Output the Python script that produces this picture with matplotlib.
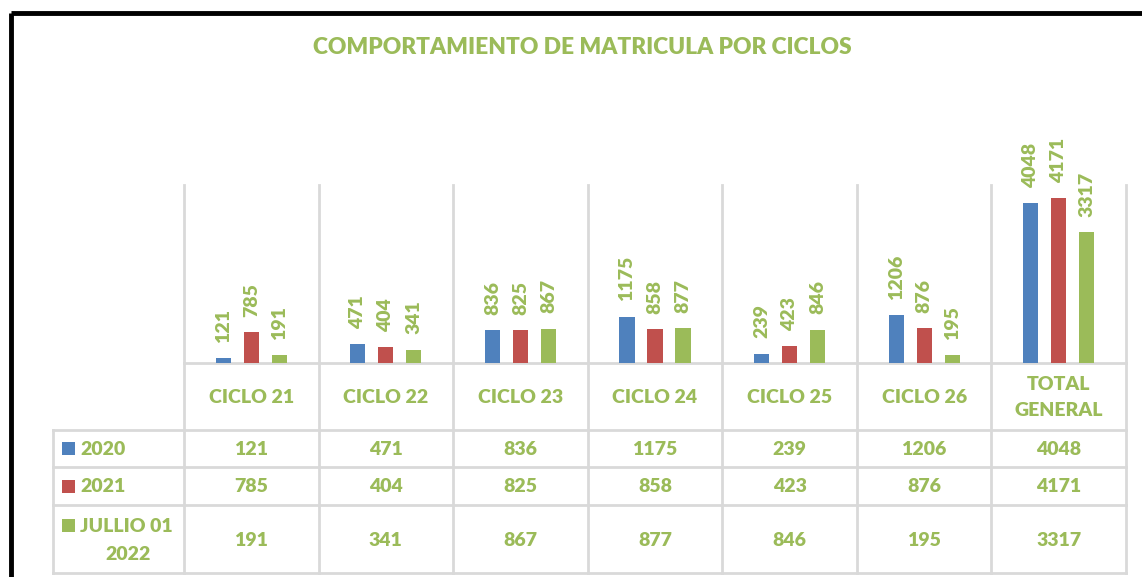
import matplotlib.pyplot as plt
import numpy as np

categories = ["CICLO 21", "CICLO 22", "CICLO 23", "CICLO 24", "CICLO 25", "CICLO 26", "TOTAL\nGENERAL"]
series_names = ["2020", "2021", "JULLIO 01\n2022"]
v2020 = [121, 471, 836, 1175, 239, 1206, 4048]
v2021 = [785, 404, 825, 858, 423, 876, 4171]
v2022 = [191, 341, 867, 877, 846, 195, 3317]
series = [v2020, v2021, v2022]
colors = ["#4F81BD", "#C0504D", "#9BBB59"]
text_green = "#9BBB59"
grid_gray = "#D9D9D9"

plt.rcParams["font.family"] = ["Lato", "DejaVu Sans"]
plt.rcParams["font.weight"] = 800

W, H = 1142, 577
fig = plt.figure(figsize=(W / 100, H / 100), dpi=100)


def box(l, t, r, b):
    return [l / W, 1 - b / H, (r - l) / W, (b - t) / H]


# pixel-space axes for the frame, table and title
bg = fig.add_axes([0, 0, 1, 1])
bg.set_xlim(0, W)
bg.set_ylim(H, 0)
bg.axis("off")

# chart area (left, top, right, baseline) in pixels
L, T, R, B = 184, 185, 1126, 363
tab_left = 53
row_edges = [B, 430, 467, 505, 573]
col_edges = np.linspace(L, R, len(categories) + 1)

# outer black frame (top and left)
bg.plot([11, W], [13, 13], color="black", lw=3.5, solid_capstyle="butt")
bg.plot([11, 11], [13, H], color="black", lw=3.5, solid_capstyle="butt")

bg.text(582, 47, "COMPORTAMIENTO DE MATRICULA POR CICLOS", color=text_green,
        fontsize=16.4, ha="center", va="center")

# table grid
for xe in col_edges:
    bg.plot([xe, xe], [T, row_edges[-1]], color=grid_gray, lw=2)
bg.plot([tab_left, tab_left], [row_edges[1], row_edges[-1]], color=grid_gray, lw=2)
bg.plot([L, R], [row_edges[0], row_edges[0]], color=grid_gray, lw=2)
for ye in row_edges[1:]:
    bg.plot([tab_left, R], [ye, ye], color=grid_gray, lw=2)

col_centers = (col_edges[:-1] + col_edges[1:]) / 2
for cx, cat in zip(col_centers, categories):
    bg.text(cx, (row_edges[0] + row_edges[1]) / 2 + 1, cat, color=text_green, fontsize=14,
            ha="center", va="center", linespacing=1.65)

for i, (name, vals, c) in enumerate(zip(series_names, series, colors)):
    ymid = (row_edges[i + 1] + row_edges[i + 2]) / 2
    for cx, v in zip(col_centers, vals):
        bg.text(cx, ymid + 1, str(v), color=text_green, fontsize=14, ha="center", va="center")
    lines = name.split("\n")
    ytop = ymid if len(lines) == 1 else ymid - 14
    bg.add_patch(plt.Rectangle((62, ytop - 6.5), 13, 13, color=c, lw=0))
    bg.text(80, ytop + 1, lines[0], color=text_green, fontsize=14, ha="left", va="center")
    if len(lines) > 1:
        bg.text(128, ytop + 29, lines[1], color=text_green, fontsize=14, ha="center", va="center")

# bars
ax = fig.add_axes(box(L, T, R, B))
ax.set_xlim(-0.5, len(categories) - 0.5)
ax.set_ylim(0, 4500)
ax.axis("off")
x = np.arange(len(categories))
width = 0.112
offsets = [-0.208, 0, 0.208]
for vals, c, off in zip(series, colors, offsets):
    ax.bar(x + off, vals, width=width, color=c, zorder=3)
    for xi, v in zip(x, vals):
        ax.annotate(str(v), (xi + off, v), xytext=(0, 11), textcoords="offset points",
                    rotation=90, ha="center", va="bottom", color=text_green, fontsize=14,
                    annotation_clip=False)

fig.savefig("out.png", dpi=100)
